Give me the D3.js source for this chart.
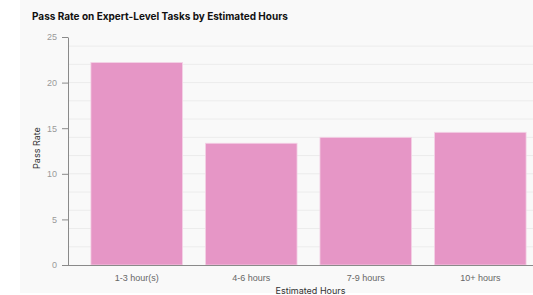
<!DOCTYPE html>
<html>
<head>
<meta charset="utf-8">
<script src="https://cdn.jsdelivr.net/npm/d3@7"></script>
<style>
  body { margin: 0; background: #fff; overflow: hidden; }
  svg { display: block; font-family: Inter, "Liberation Sans", sans-serif; }
</style>
</head>
<body>
<script>
// data
var categories = ["1-3 hour(s)", "4-6 hours", "7-9 hours", "10+ hours"];
var passRates = [22.2, 13.35, 14.0, 14.55];
var yTicks = [0, 5, 10, 15, 20, 25];
var gridValues = [2, 4, 6, 8, 10, 12, 14, 16, 18, 20, 22, 24];

var width = 533, height = 295;
var margin = {left: 68, top: 37, bottom: 30};
var plotBottom = height - margin.bottom; // 265

var svg = d3.select("body").append("svg")
  .attr("width", width)
  .attr("height", height);

// panel background
svg.append("rect")
  .attr("x", 20).attr("y", 0)
  .attr("width", width - 20).attr("height", 293)
  .attr("fill", "#f9f9f9");

var x = d3.scaleBand()
  .domain(categories)
  .range([margin.left, 549])
  .paddingInner(0.2)
  .paddingOuter(0.2);

var y = d3.scaleLinear()
  .domain([0, 25])
  .range([plotBottom, margin.top]);

// grid
svg.append("g")
  .selectAll("line")
  .data(gridValues)
  .enter().append("line")
  .attr("x1", margin.left).attr("x2", width)
  .attr("y1", d => y(d)).attr("y2", d => y(d))
  .attr("stroke", "#ececec")
  .attr("stroke-width", 1);

// bars
svg.append("g")
  .selectAll("rect")
  .data(passRates)
  .enter().append("rect")
  .attr("x", (d, i) => x(categories[i]))
  .attr("width", x.bandwidth())
  .attr("y", d => y(d))
  .attr("height", d => plotBottom - y(d))
  .attr("fill", "#e696c6")
  .attr("stroke", "#f4d3e6")
  .attr("stroke-width", 0.8);

// y axis
var yAxis = svg.append("g")
  .attr("transform", "translate(" + margin.left + ",0)")
  .call(d3.axisLeft(y).tickValues(yTicks).tickSize(6).tickPadding(5).tickSizeOuter(0));
yAxis.selectAll("path, line").attr("stroke", "#8a8a8a");
yAxis.selectAll("text").attr("fill", "#999").style("font-size", "9px");

// x axis
var xAxis = svg.append("g")
  .attr("transform", "translate(0," + plotBottom + ")")
  .call(d3.axisBottom(x).tickSize(0).tickPadding(10).tickSizeOuter(0));
xAxis.select(".domain").attr("d", "M62,0.5H" + width).attr("stroke", "#8a8a8a");
xAxis.selectAll("text").attr("fill", "#666").style("font-size", "9px");

// title
svg.append("text")
  .attr("x", 32).attr("y", 20)
  .attr("fill", "#111")
  .style("font-size", "10px")
  .style("font-weight", "700")
  .text("Pass Rate on Expert-Level Tasks by Estimated Hours");

// axis titles
svg.append("text")
  .attr("transform", "translate(40,148) rotate(-90)")
  .attr("text-anchor", "middle")
  .attr("fill", "#333")
  .style("font-size", "9px")
  .text("Pass Rate");

svg.append("text")
  .attr("x", (margin.left + 549) / 2 + 2)
  .attr("y", 294)
  .attr("text-anchor", "middle")
  .attr("fill", "#333")
  .style("font-size", "9px")
  .text("Estimated Hours");
</script>
</body>
</html>
